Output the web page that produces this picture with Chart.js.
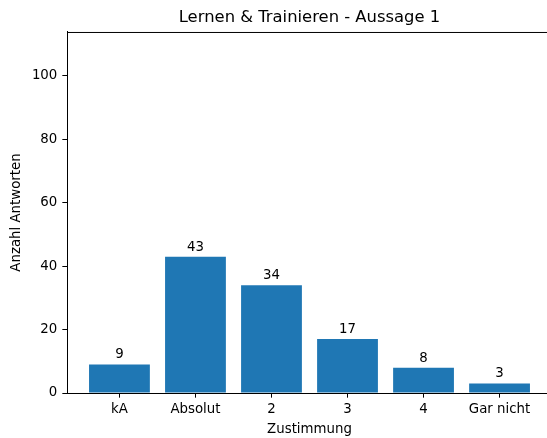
<!DOCTYPE html>
<html>
<head>
<meta charset="utf-8">
<script src="https://cdn.jsdelivr.net/npm/chart.js@4"></script>
<style>
html,body{margin:0;padding:0;background:#fff;overflow:hidden;}
#wrap{width:552px;height:438px;position:relative;}
</style>
</head>
<body>
<div id="wrap"><canvas id="c"></canvas></div>
<script>
const categories = ["kA", "Absolut", "2", "3", "4", "Gar nicht"];
const positions = [0, 1, 2, 3, 4, 5];
const counts = [9, 43, 34, 17, 8, 3];
const yTicks = [0, 20, 40, 60, 80, 100];
const yMax = 113.85;
const xMin = -0.69, xMax = 5.69;

const FONT = "'DejaVu Sans', sans-serif";

const frame = {
  id: 'frame',
  afterDraw(chart) {
    const {ctx, chartArea: a} = chart;
    ctx.save();
    ctx.strokeStyle = '#000';
    ctx.lineWidth = 1;
    ctx.beginPath();
    ctx.moveTo(a.left, a.top + 0.5);
    ctx.lineTo(a.right, a.top + 0.5);
    ctx.stroke();
    // bar value labels
    const meta = chart.getDatasetMeta(0);
    ctx.fillStyle = '#000';
    ctx.font = "13.33px " + FONT;
    ctx.textAlign = 'center';
    ctx.textBaseline = 'alphabetic';
    meta.data.forEach((bar, i) => {
      ctx.fillText(String(counts[i]), bar.x, bar.y - 6);
    });
    ctx.restore();
  }
};

new Chart(document.getElementById('c'), {
  type: 'bar',
  data: {
    datasets: [{
      data: positions.map((p, i) => ({x: p, y: counts[i]})),
      backgroundColor: '#1f77b4',
      borderWidth: 0,
      barPercentage: 0.8,
      categoryPercentage: 1.0
    }]
  },
  options: {
    responsive: true,
    maintainAspectRatio: false,
    animation: false,
    layout: {padding: {left: 0, right: 0, top: 0, bottom: 0}},
    plugins: {
      legend: {display: false},
      tooltip: {enabled: false},
      title: {
        display: true,
        fullSize: false,
        text: 'Lernen & Trainieren - Aussage 1',
        color: '#000',
        font: {family: FONT, size: 16.4, weight: 'normal'},
        padding: {top: 7.5, bottom: 4.8}
      }
    },
    scales: {
      x: {
        type: 'linear',
        min: xMin,
        max: xMax,
        offset: false,
        afterBuildTicks(scale) { scale.ticks = positions.map(v => ({value: v})); },
        afterFit(scale) { scale.height = 45; },
        ticks: {
          color: '#000',
          font: {family: FONT, size: 13.33},
          padding: 4,
          maxRotation: 0,
          autoSkip: false,
          callback: (v) => categories[v]
        },
        grid: {
          display: true,
          drawOnChartArea: false,
          drawTicks: true,
          tickLength: 4.67,
          tickWidth: 1,
          offset: false,
          tickColor: '#000'
        },
        border: {display: true, color: '#000', width: 1},
        title: {
          display: true,
          text: 'Zustimmung',
          color: '#000',
          font: {family: FONT, size: 13.33},
          padding: {top: 0, bottom: 0.5}
        }
      },
      y: {
        min: 0,
        max: yMax,
        afterBuildTicks(scale) { scale.ticks = yTicks.map(v => ({value: v})); },
        afterFit(scale) { scale.width = 67; },
        ticks: {
          color: '#000',
          font: {family: FONT, size: 13.33},
          padding: 5
        },
        grid: {
          display: true,
          drawOnChartArea: false,
          drawTicks: true,
          tickLength: 4.67,
          tickWidth: 1,
          tickColor: '#000'
        },
        border: {display: true, color: '#000', width: 1},
        title: {
          display: true,
          text: 'Anzahl Antworten',
          color: '#000',
          font: {family: FONT, size: 13.33},
          padding: {top: 9, bottom: 0}
        }
      }
    }
  },
  plugins: [frame]
});
</script>
</body>
</html>
